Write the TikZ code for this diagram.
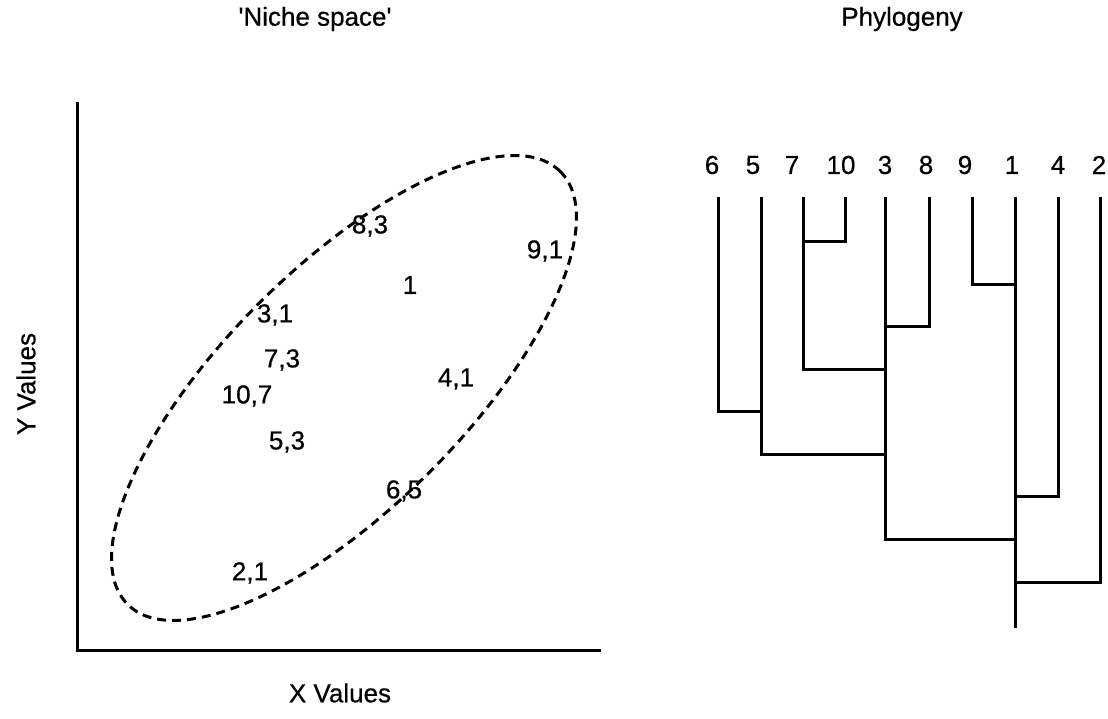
\documentclass[tikz,border=0pt]{standalone}
\usepackage{fontspec}
\setmainfont{Liberation Sans}[FakeBold=0.6]
\newfontfamily\scanfont{Liberation Sans}[FakeBold=0.6]
\begin{document}
\begin{tikzpicture}[x=1pt,y=1pt,
  lbl/.style={inner sep=0pt,font=\scanfont\fontsize{26}{31}\selectfont},
  ttl/.style={inner sep=0pt,font=\scanfont\fontsize{26}{31}\selectfont},
  axis/.style={line width=3pt},
  tree/.style={line width=3pt,line cap=rect},
  niche/.style={line width=3pt,dash pattern=on 9pt off 6pt}]
\useasboundingbox (0,0) rectangle (1108,719);
% titles
\node[ttl] (t1title) at (315,700) {\textquotesingle Niche space\textquotesingle};
\node[ttl] (t2title) at (902,700) {Phylogeny};
% axes
\coordinate (ytop) at (77,617);
\coordinate (orig) at (77,68);
\coordinate (xend) at (601,68);
\draw[axis] (ytop) -- (orig) -- (xend);
\node[ttl,rotate=90] (ylab) at (26,335) {Y Values};
\node[ttl] (xlab) at (340,26) {X Values};
% niche ellipse
\draw[niche,rotate around={45:(344,331)}] (344,331) ellipse [x radius=306,y radius=120];
% niche labels
\node[lbl] (n83) at (370,493) {8,3};
\node[lbl] (n91) at (545,468) {9,1};
\node[lbl] (n1) at (410,434) {1};
\node[lbl] (n31) at (275,404) {3,1};
\node[lbl] (n73) at (282,359) {7,3};
\node[lbl] (n107) at (247,323) {10,7};
\node[lbl] (n41) at (456,340) {4,1};
\node[lbl] (n53) at (287,277) {5,3};
\node[lbl] (n65) at (404,228) {6,5};
\node[lbl] (n21) at (250,146) {2,1};
% phylogeny labels
\node[lbl] (l6) at (712,554) {6};
\node[lbl] (l5) at (753,554) {5};
\node[lbl] (l7) at (792,554) {7};
\node[lbl] (l10) at (841,554) {10};
\node[lbl] (l3) at (885,554) {3};
\node[lbl] (l8) at (926,554) {8};
\node[lbl] (l9) at (965,554) {9};
\node[lbl] (l1) at (1012,554) {1};
\node[lbl] (l4) at (1058,554) {4};
\node[lbl] (l2) at (1099,554) {2};
% tips
\coordinate (t6) at (718,520);
\coordinate (t5) at (761,520);
\coordinate (t7) at (803,520);
\coordinate (t10) at (845,520);
\coordinate (t3) at (885,520);
\coordinate (t8) at (929,520);
\coordinate (t9) at (972,520);
\coordinate (t1) at (1015,520);
\coordinate (t4) at (1058,520);
\coordinate (t2) at (1100,520);
% joins
\coordinate (j710) at (803,477);
\coordinate (j91) at (1015,434);
\coordinate (j38) at (885,392);
\coordinate (j7r) at (885,349);
\coordinate (j65) at (761,307);
\coordinate (j5r) at (885,264);
\coordinate (j14) at (1015,222);
\coordinate (j31) at (1015,179);
\coordinate (j12) at (1015,136);
\coordinate (root) at (1015,92);
\draw[tree] (t10) |- (j710);
\draw[tree] (t9) |- (j91);
\draw[tree] (t8) |- (j38);
\draw[tree] (t7) |- (j7r);
\draw[tree] (t6) |- (j65);
\draw[tree] (t5) |- (j5r);
\draw[tree] (t4) |- (j14);
\draw[tree] (t3) |- (j31);
\draw[tree] (t2) |- (j12);
\draw[tree] (t1) -- (root);
\end{tikzpicture}
\end{document}
